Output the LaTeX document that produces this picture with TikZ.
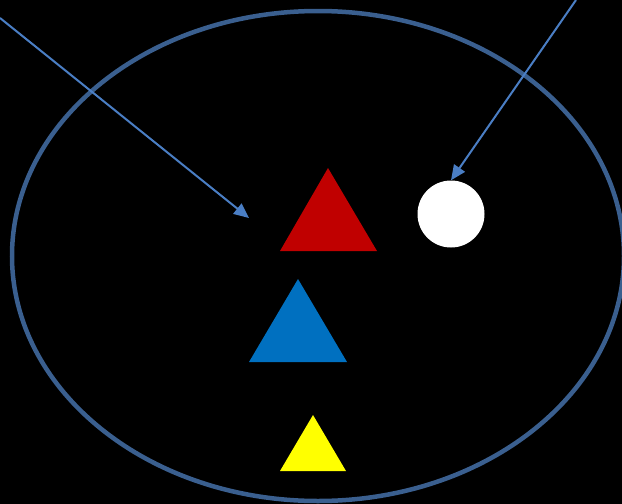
\documentclass[tikz,border=0pt]{standalone}
\usetikzlibrary{arrows.meta}
\definecolor{ringblue}{HTML}{3A5F8F}
\definecolor{arrowblue}{HTML}{4A7EC4}
\definecolor{redtri}{HTML}{C00000}
\definecolor{bluetri}{HTML}{0070C0}
\definecolor{yellowtri}{HTML}{FFFF00}
\tikzset{
 pointer/.style={draw=arrowblue,line width=2pt,-{Triangle[length=15pt,width=13pt]}},
 tri/.style={draw=none}
}
\begin{document}
\begin{tikzpicture}[x=1pt,y=-1pt]
\useasboundingbox (0,0) rectangle (622,504);
\fill[black] (0,0) rectangle (622,504);
\begin{scope}
\clip (0,0) rectangle (622,504);
\draw[ringblue,line width=4.5pt] (318,256) ellipse [x radius=306,y radius=245];
\end{scope}
% triangles
\fill[redtri,tri] (328,168)--(377,251)--(280,251)--cycle;
\fill[bluetri,tri] (298,279)--(347,362)--(249,362)--cycle;
\fill[yellowtri,tri] (313,415)--(346,471)--(280,471)--cycle;
\node[circle,fill=white,minimum size=67pt,inner sep=0pt] (disc) at (451,214) {};
% pointers
\coordinate (from1) at (0,18);
\coordinate (to1) at (249,218);
\coordinate (from2) at (576,0);
\draw[pointer] (from1) -- (to1);
\draw[pointer] (from2) -- (disc.north);
\end{tikzpicture}
\end{document}
